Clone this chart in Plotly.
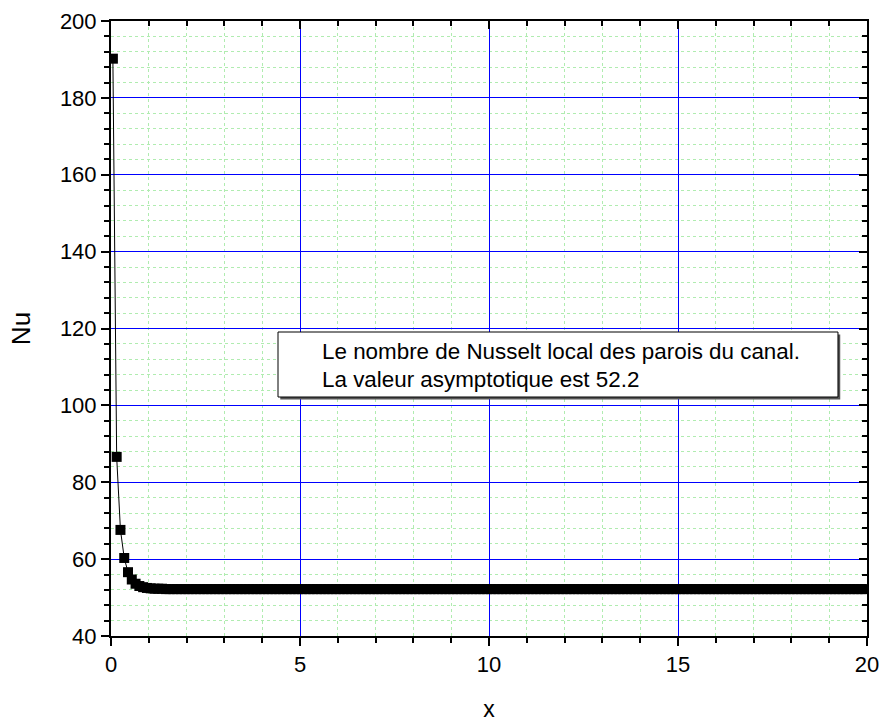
import plotly.graph_objects as go

# ---- data ----
x_vals = [
    0.05, 0.15, 0.25, 0.35, 0.45, 0.55, 0.65, 0.75, 0.85, 0.95,
    1.05, 1.15, 1.25, 1.35, 1.45, 1.55, 1.65, 1.75, 1.85, 1.95,
    2.05, 2.15, 2.25, 2.35, 2.45, 2.55, 2.65, 2.75, 2.85, 2.95,
    3.05, 3.15, 3.25, 3.35, 3.45, 3.55, 3.65, 3.75, 3.85, 3.95,
    4.05, 4.15, 4.25, 4.35, 4.45, 4.55, 4.65, 4.75, 4.85, 4.95,
    5.05, 5.15, 5.25, 5.35, 5.45, 5.55, 5.65, 5.75, 5.85, 5.95,
    6.05, 6.15, 6.25, 6.35, 6.45, 6.55, 6.65, 6.75, 6.85, 6.95,
    7.05, 7.15, 7.25, 7.35, 7.45, 7.55, 7.65, 7.75, 7.85, 7.95,
    8.05, 8.15, 8.25, 8.35, 8.45, 8.55, 8.65, 8.75, 8.85, 8.95,
    9.05, 9.15, 9.25, 9.35, 9.45, 9.55, 9.65, 9.75, 9.85, 9.95,
    10.05, 10.15, 10.25, 10.35, 10.45, 10.55, 10.65, 10.75, 10.85, 10.95,
    11.05, 11.15, 11.25, 11.35, 11.45, 11.55, 11.65, 11.75, 11.85, 11.95,
    12.05, 12.15, 12.25, 12.35, 12.45, 12.55, 12.65, 12.75, 12.85, 12.95,
    13.05, 13.15, 13.25, 13.35, 13.45, 13.55, 13.65, 13.75, 13.85, 13.95,
    14.05, 14.15, 14.25, 14.35, 14.45, 14.55, 14.65, 14.75, 14.85, 14.95,
    15.05, 15.15, 15.25, 15.35, 15.45, 15.55, 15.65, 15.75, 15.85, 15.95,
    16.05, 16.15, 16.25, 16.35, 16.45, 16.55, 16.65, 16.75, 16.85, 16.95,
    17.05, 17.15, 17.25, 17.35, 17.45, 17.55, 17.65, 17.75, 17.85, 17.95,
    18.05, 18.15, 18.25, 18.35, 18.45, 18.55, 18.65, 18.75, 18.85, 18.95,
    19.05, 19.15, 19.25, 19.35, 19.45, 19.55, 19.65, 19.75, 19.85, 19.95,
]
nu_vals = [
    190.2, 86.6, 67.6, 60.3, 56.6, 54.7, 53.6, 53.0, 52.7, 52.5,
    52.4, 52.3, 52.3, 52.3, 52.2, 52.2, 52.2, 52.2, 52.2, 52.2,
    52.2, 52.2, 52.2, 52.2, 52.2, 52.2, 52.2, 52.2, 52.2, 52.2,
    52.2, 52.2, 52.2, 52.2, 52.2, 52.2, 52.2, 52.2, 52.2, 52.2,
    52.2, 52.2, 52.2, 52.2, 52.2, 52.2, 52.2, 52.2, 52.2, 52.2,
    52.2, 52.2, 52.2, 52.2, 52.2, 52.2, 52.2, 52.2, 52.2, 52.2,
    52.2, 52.2, 52.2, 52.2, 52.2, 52.2, 52.2, 52.2, 52.2, 52.2,
    52.2, 52.2, 52.2, 52.2, 52.2, 52.2, 52.2, 52.2, 52.2, 52.2,
    52.2, 52.2, 52.2, 52.2, 52.2, 52.2, 52.2, 52.2, 52.2, 52.2,
    52.2, 52.2, 52.2, 52.2, 52.2, 52.2, 52.2, 52.2, 52.2, 52.2,
    52.2, 52.2, 52.2, 52.2, 52.2, 52.2, 52.2, 52.2, 52.2, 52.2,
    52.2, 52.2, 52.2, 52.2, 52.2, 52.2, 52.2, 52.2, 52.2, 52.2,
    52.2, 52.2, 52.2, 52.2, 52.2, 52.2, 52.2, 52.2, 52.2, 52.2,
    52.2, 52.2, 52.2, 52.2, 52.2, 52.2, 52.2, 52.2, 52.2, 52.2,
    52.2, 52.2, 52.2, 52.2, 52.2, 52.2, 52.2, 52.2, 52.2, 52.2,
    52.2, 52.2, 52.2, 52.2, 52.2, 52.2, 52.2, 52.2, 52.2, 52.2,
    52.2, 52.2, 52.2, 52.2, 52.2, 52.2, 52.2, 52.2, 52.2, 52.2,
    52.2, 52.2, 52.2, 52.2, 52.2, 52.2, 52.2, 52.2, 52.2, 52.2,
    52.2, 52.2, 52.2, 52.2, 52.2, 52.2, 52.2, 52.2, 52.2, 52.2,
    52.2, 52.2, 52.2, 52.2, 52.2, 52.2, 52.2, 52.2, 52.2, 52.2,
]
x_ticks = [0, 5, 10, 15, 20]
y_ticks = [40, 60, 80, 100, 120, 140, 160, 180, 200]
legend_lines = [
    "Le nombre de Nusselt local des parois du canal.",
    "La valeur asymptotique est 52.2",
]
x_title = "x"
y_title = "Nu"

FONT = "Liberation Sans, Arial, sans-serif"
BLUE = "#0000ff"
MINOR_GRID = "#b0ecb0"

x_step = x_ticks[1] - x_ticks[0]
y_step = y_ticks[1] - y_ticks[0]

fig = go.Figure()
fig.add_trace(go.Scatter(
    x=x_vals, y=nu_vals, mode="lines+markers",
    line=dict(color="black", width=1),
    marker=dict(symbol="square", size=10, color="black"),
    showlegend=False, hoverinfo="x+y",
))
# invisible trace to anchor the mirrored top/right axes
fig.add_trace(go.Scatter(x=[x_ticks[0]], y=[y_ticks[0]], xaxis="x2", yaxis="y2",
                         mode="markers", marker=dict(opacity=0), showlegend=False,
                         hoverinfo="skip"))

tick_font = dict(family=FONT, size=22, color="black")

fig.update_layout(
    width=885, height=722,
    margin=dict(l=111, r=18, t=21, b=86),
    paper_bgcolor="white", plot_bgcolor="white",
    font=tick_font,
    xaxis=dict(
        range=[x_ticks[0], x_ticks[-1]], tickmode="linear", tick0=x_ticks[0], dtick=x_step,
        showline=True, linecolor="black", linewidth=2, mirror=False,
        ticks="outside", ticklen=8, tickwidth=2, tickcolor="black",
        showgrid=True, gridcolor=BLUE, gridwidth=1,
        zeroline=False, automargin=False,
        minor=dict(dtick=1, ticks="outside", ticklen=5, tickwidth=2, tickcolor="black",
                   showgrid=True, gridcolor=MINOR_GRID, griddash="dot", gridwidth=1),
        title=dict(text=x_title, font=dict(family=FONT, size=23), standoff=26),
        tickfont=tick_font,
    ),
    yaxis=dict(
        range=[y_ticks[0], y_ticks[-1]], tickmode="linear", tick0=y_ticks[0], dtick=y_step,
        showline=True, linecolor="black", linewidth=2, mirror=False,
        ticks="outside", ticklen=8, tickwidth=2, tickcolor="black",
        showgrid=True, gridcolor=BLUE, gridwidth=1,
        zeroline=False, automargin=False,
        minor=dict(dtick=4, ticks="outside", ticklen=5, tickwidth=2, tickcolor="black",
                   showgrid=True, gridcolor=MINOR_GRID, griddash="dot", gridwidth=1),
        title=dict(text=y_title, font=dict(family=FONT, size=26), standoff=22),
        tickfont=tick_font,
    ),
    xaxis2=dict(
        overlaying="x", side="top", anchor="y2",
        range=[x_ticks[0], x_ticks[-1]], tickmode="linear", tick0=x_ticks[0], dtick=x_step,
        showticklabels=False, showline=True, linecolor="black", linewidth=2,
        ticks="inside", ticklen=8, tickwidth=2, tickcolor="black",
        showgrid=False, zeroline=False,
        minor=dict(dtick=1, ticks="inside", ticklen=5, tickwidth=2, tickcolor="black",
                   showgrid=False),
    ),
    yaxis2=dict(
        overlaying="y", side="right", anchor="x2",
        range=[y_ticks[0], y_ticks[-1]], tickmode="linear", tick0=y_ticks[0], dtick=y_step,
        showticklabels=False, showline=True, linecolor="black", linewidth=2,
        ticks="inside", ticklen=8, tickwidth=2, tickcolor="black",
        showgrid=False, zeroline=False,
        minor=dict(dtick=4, ticks="inside", ticklen=5, tickwidth=2, tickcolor="black",
                   showgrid=False),
    ),
)

# legend box with drop shadow (paper coordinates)
bx0, bx1, by0, by1 = 0.2209, 0.9616, 0.3886, 0.4943
fig.add_shape(type="rect", xref="paper", yref="paper",
              x0=bx0 + 0.003, x1=bx1 + 0.003, y0=by0 - 0.004, y1=by1 - 0.004,
              fillcolor="#555555", line=dict(width=0), layer="above", opacity=1)
fig.add_shape(type="rect", xref="paper", yref="paper",
              x0=bx0, x1=bx1, y0=by0, y1=by1,
              fillcolor="white", line=dict(color="black", width=1), layer="above", opacity=1)
for i, txt in enumerate(legend_lines):
    fig.add_annotation(xref="paper", yref="paper", x=0.2765, y=0.4618 - i * 0.0455,
                       xanchor="left", yanchor="middle", showarrow=False, text=txt,
                       font=dict(family=FONT, size=22.4, color="black"), align="left")

fig.write_html("out.html")
